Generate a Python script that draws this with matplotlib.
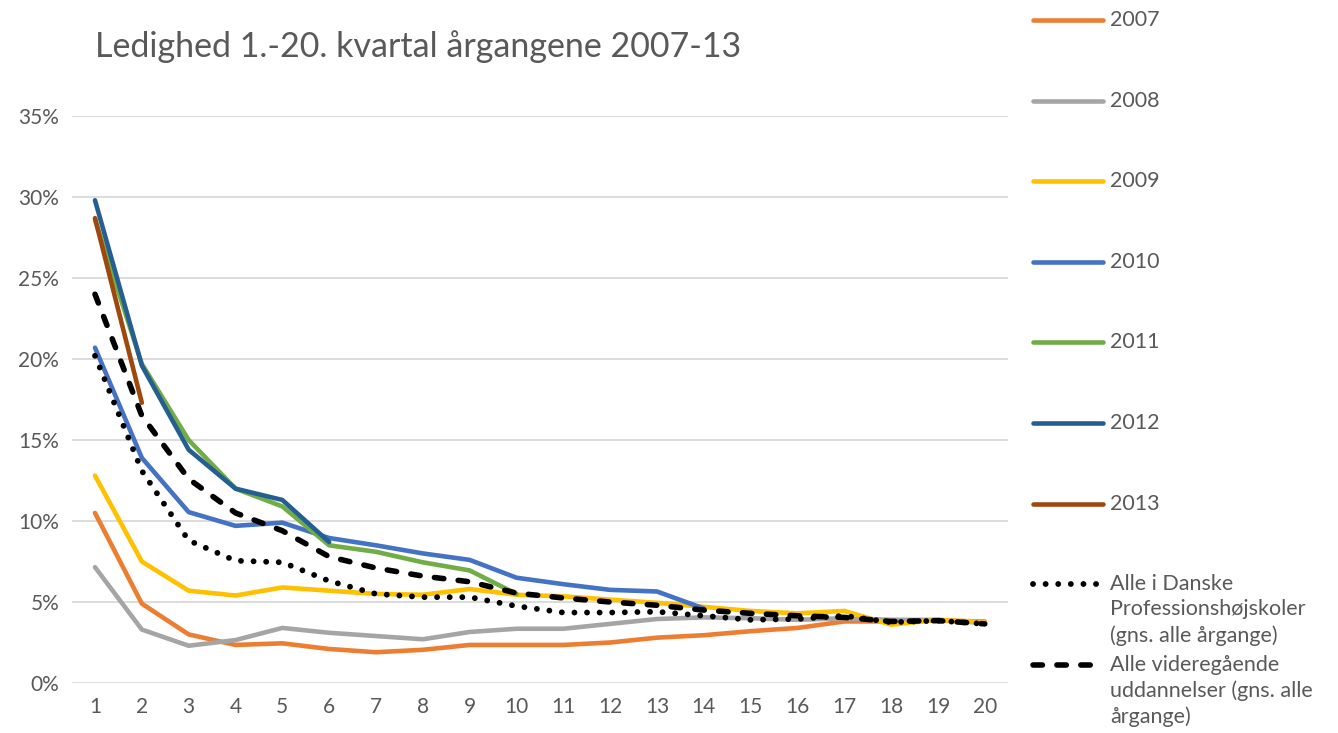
import matplotlib.pyplot as plt
from matplotlib.lines import Line2D
from matplotlib.ticker import FuncFormatter

plt.rcParams['font.family'] = ['Lato', 'DejaVu Sans']

quarters = list(range(1, 21))

y2007 = [10.5, 4.9, 3.0, 2.35, 2.45, 2.1, 1.9, 2.05, 2.35, 2.35, 2.35, 2.5, 2.8, 2.95, 3.2, 3.4, 3.8, 3.8, 3.85, 3.8]
y2008 = [7.15, 3.3, 2.3, 2.65, 3.4, 3.1, 2.9, 2.7, 3.15, 3.35, 3.35, 3.65, 3.95, 4.05, 4.0, 3.9, 4.0, 3.9, 3.9, 3.7]
y2009 = [12.8, 7.5, 5.7, 5.4, 5.9, 5.7, 5.5, 5.45, 5.8, 5.45, 5.35, 5.15, 4.95, 4.7, 4.45, 4.3, 4.45, 3.6, 3.9, 3.75]
y2010 = [20.7, 13.9, 10.55, 9.7, 9.9, 8.95, 8.5, 8.0, 7.6, 6.5, 6.1, 5.75, 5.65, 4.6]
y2011 = [28.6, 19.7, 15.0, 12.0, 10.9, 8.5, 8.1, 7.45, 6.95, 5.5]
y2012 = [29.8, 19.6, 14.4, 12.0, 11.3, 8.7]
y2013 = [28.7, 17.3]
prof = [20.2, 13.1, 8.8, 7.55, 7.45, 6.3, 5.5, 5.3, 5.3, 4.75, 4.35, 4.35, 4.4, 4.15, 3.9, 3.95, 4.15, 3.75, 3.85, 3.65]
alle = [24.0, 16.5, 12.6, 10.5, 9.4, 7.8, 7.1, 6.6, 6.25, 5.55, 5.25, 5.0, 4.8, 4.5, 4.3, 4.15, 4.05, 3.8, 3.85, 3.65]

series = [
    ('2007', y2007, '#ed7d31'),
    ('2008', y2008, '#a5a5a5'),
    ('2009', y2009, '#ffc000'),
    ('2010', y2010, '#4472c4'),
    ('2011', y2011, '#70ad47'),
    ('2012', y2012, '#255e91'),
    ('2013', y2013, '#9e480e'),
]
prof_label = 'Alle i Danske\nProfessionshøjskoler\n(gns. alle årgange)'
alle_label = 'Alle videregående\nuddannelser (gns. alle\nårgange)'

text_color = '#595959'

fig = plt.figure(figsize=(13.38, 7.33), dpi=100)
ax = fig.add_axes([0.0535, 0.0682, 0.70, 0.7735])

styles = []
for label, vals, color in series:
    ax.plot(quarters[:len(vals)], vals, color=color, lw=3.3, solid_capstyle='round', solid_joinstyle='round')
    styles.append((label, dict(color=color, lw=3.3, solid_capstyle='round')))

dot_kw = dict(color='black', lw=4.2, linestyle=(0, (0.01, 2.15)), dash_capstyle='round')
dash_kw = dict(color='black', lw=4.0, linestyle=(0, (1.7, 2.6)), dash_capstyle='round')
ax.plot(quarters, prof, **dot_kw)
ax.plot(quarters, alle, **dash_kw)
styles.append((prof_label, dot_kw))
styles.append((alle_label, dash_kw))

ax.set_xlim(0.5, 20.5)
ax.set_ylim(0, 35)
ax.set_xticks(quarters)
ax.set_yticks(range(0, 36, 5))
ax.yaxis.set_major_formatter(FuncFormatter(lambda v, p: f'{v:.0f}%'))
ax.grid(axis='y', color='#d9d9d9', lw=1.3)
ax.set_axisbelow(True)
for s in ax.spines.values():
    s.set_visible(False)
ax.tick_params(length=0, labelsize=15, colors=text_color, pad=10)
ax.tick_params(axis='y', pad=9)

fig.text(0.071, 0.936, 'Ledighed 1.-20. kvartal årgangene 2007-13', fontsize=24.5, color=text_color,
         va='center', ha='left')

# legend, Excel style: fixed spacing, multi-line text runs downward
x0, x1, xt = 1033 / 1338, 1103 / 1338, 1110 / 1338
for i, (label, kw) in enumerate(styles):
    y = 1 - (20 + i * 80.6) / 733
    fig.add_artist(Line2D([x0, x1], [y, y], transform=fig.transFigure, **kw))
    fig.text(xt, y + 10 / 733, label, fontsize=15.5, color=text_color, va='top', ha='left',
             linespacing=1.33, transform=fig.transFigure)

fig.savefig('out.png', dpi=100)
